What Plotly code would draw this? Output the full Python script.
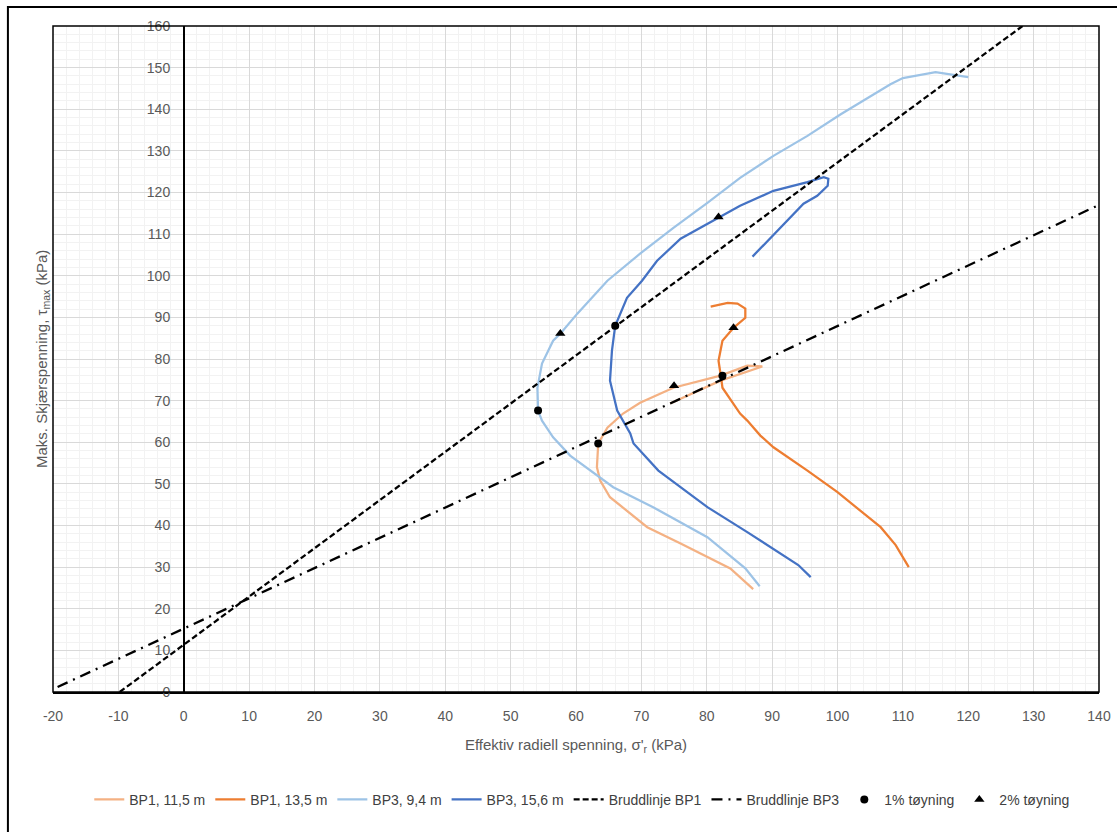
import plotly.graph_objects as go

# ---- data ----
bp1_115_x = [87.1, 83.6, 76.0, 70.9, 65.2, 63.7, 63.2, 63.4, 64.8, 67.2, 69.8, 74.9, 82.1, 86.2, 88.5, 85.1, 82.1, 74.4]
bp1_115_y = [24.7, 29.7, 35.7, 39.6, 46.8, 50.8, 54.0, 59.7, 63.5, 66.9, 69.5, 73.1, 76.0, 78.4, 78.2, 76.3, 74.8, 69.3]

bp1_135_x = [110.9, 108.9, 106.6, 100.0, 95.4, 90.2, 88.2, 86.2, 85.1, 83.3, 82.4, 82.2, 81.8, 82.4, 84.1, 85.9, 85.9, 84.7, 83.2, 80.6]
bp1_135_y = [30.0, 35.3, 39.6, 48.0, 53.2, 58.8, 61.6, 65.2, 66.9, 71.0, 73.1, 75.5, 79.6, 84.4, 87.5, 89.9, 92.1, 93.3, 93.5, 92.6]

bp3_94_x = [88.1, 85.9, 80.1, 71.8, 65.7, 59.1, 56.5, 54.8, 54.2, 54.1, 54.8, 56.5, 57.6, 60.2, 64.8, 69.8, 74.9, 80.1, 85.1, 90.2, 95.4, 100.5, 108.1, 110.0, 115.0, 120.0]
bp3_94_y = [25.4, 29.7, 37.2, 44.4, 49.2, 56.8, 61.2, 65.2, 67.6, 73.1, 78.9, 84.4, 86.1, 90.9, 98.8, 105.3, 111.5, 117.5, 123.5, 128.8, 133.6, 138.8, 146.0, 147.5, 148.9, 147.7]

bp3_156_x = [95.9, 94.0, 86.2, 80.1, 72.6, 68.8, 68.3, 66.3, 65.2, 65.5, 66.0, 67.8, 70.1, 72.4, 76.0, 79.0, 81.8, 85.1, 90.2, 95.4, 97.9, 98.6, 98.5, 96.9, 94.8, 92.3, 89.7, 87.0]
bp3_156_y = [27.6, 30.5, 38.4, 44.4, 53.2, 59.7, 62.1, 67.6, 74.8, 82.0, 88.0, 94.7, 98.8, 103.6, 108.9, 111.5, 114.0, 116.8, 120.4, 122.5, 123.7, 123.3, 121.6, 119.2, 117.3, 113.2, 109.1, 104.6]

brudd_bp1_x = [-9.8, 128.3]
brudd_bp1_y = [0.0, 160.0]
brudd_bp3_x = [-19.3, 140.0]
brudd_bp3_y = [1.2, 117.0]

strain1_x = [63.4, 82.4, 54.2, 66.0]
strain1_y = [59.7, 76.0, 67.6, 88.0]
strain2_x = [75.0, 84.1, 57.6, 81.8]
strain2_y = [73.6, 87.5, 86.1, 114.1]

x_ticks = list(range(-20, 141, 10))
y_ticks = list(range(0, 161, 10))

# ---- figure ----
fig = go.Figure()
lw = 2.25
fig.add_trace(go.Scatter(x=bp1_115_x, y=bp1_115_y, mode="lines", name="BP1, 11,5 m",
                         line=dict(color="#F4B183", width=lw)))
fig.add_trace(go.Scatter(x=bp1_135_x, y=bp1_135_y, mode="lines", name="BP1, 13,5 m",
                         line=dict(color="#ED7D31", width=lw)))
fig.add_trace(go.Scatter(x=bp3_94_x, y=bp3_94_y, mode="lines", name="BP3, 9,4 m",
                         line=dict(color="#9DC3E6", width=lw)))
fig.add_trace(go.Scatter(x=bp3_156_x, y=bp3_156_y, mode="lines", name="BP3, 15,6 m",
                         line=dict(color="#4472C4", width=lw)))
fig.add_trace(go.Scatter(x=brudd_bp1_x, y=brudd_bp1_y, mode="lines", name="Bruddlinje BP1",
                         line=dict(color="black", width=2.25, dash="6px,3px")))
fig.add_trace(go.Scatter(x=brudd_bp3_x, y=brudd_bp3_y, mode="lines", name="Bruddlinje BP3",
                         line=dict(color="black", width=2.25, dash="11px,6px,2px,6px")))
fig.add_trace(go.Scatter(x=strain1_x, y=strain1_y, mode="markers", name="1% tøyning",
                         marker=dict(symbol="circle", color="black", size=8)))
fig.add_trace(go.Scatter(x=strain2_x, y=strain2_y, mode="markers", name="2% tøyning",
                         marker=dict(symbol="triangle-up", color="black", size=9)))

tick_font = dict(family="Liberation Sans, Arial, sans-serif", size=14, color="#595959")

fig.update_layout(
    width=1117, height=832,
    margin=dict(l=53, r=18, t=26, b=140),
    paper_bgcolor="white", plot_bgcolor="white",
    showlegend=True,
    legend=dict(orientation="h", x=0.506, xanchor="center", y=-0.162, yanchor="middle",
                font=dict(family="Liberation Sans Narrow, Arial Narrow, Liberation Sans, sans-serif",
                          size=14, color="#404040"),
                itemwidth=30, tracegroupgap=0),
    xaxis=dict(range=[-20, 140], tickvals=x_ticks, ticktext=[str(v) for v in x_ticks],
               automargin=False,
               showgrid=True, gridcolor="#D9D9D9", gridwidth=1,
               minor=dict(dtick=2, tick0=0, showgrid=True, gridcolor="#F2F2F2", gridwidth=1),
               zeroline=False, showline=True, linecolor="black", linewidth=1.5,
               ticks="outside", ticklen=10, tickcolor="rgba(0,0,0,0)",
               tickfont=tick_font,
               title=dict(text="Effektiv radiell spenning, σ'<sub>r</sub> (kPa)",
                          font=dict(family="Liberation Sans, Arial, sans-serif", size=15, color="#595959"),
                          standoff=17)),
    yaxis=dict(range=[0, 160], tickvals=y_ticks, ticktext=[str(v) for v in y_ticks],
               automargin=False,
               anchor="free", position=0.125,
               showgrid=True, gridcolor="#D9D9D9", gridwidth=1,
               minor=dict(dtick=2, tick0=0, showgrid=True, gridcolor="#F2F2F2", gridwidth=1),
               zeroline=False, showline=True, linecolor="black", linewidth=1.5,
               ticks="outside", ticklen=10, tickcolor="rgba(0,0,0,0)",
               tickfont=tick_font),
)

# y-axis title as annotation (axis line sits at x=0)
fig.add_annotation(text="Maks. Skjærspenning, τ<sub>max</sub> (kPa)", xref="paper", yref="paper",
                   x=-0.0105, y=0.5, textangle=-90, showarrow=False, xanchor="center", yanchor="middle",
                   font=dict(family="Liberation Sans, Arial, sans-serif", size=15, color="#595959"))

# plot-area border and chart border (right/bottom edges fall outside the picture)
fig.add_shape(type="rect", xref="paper", yref="paper", x0=0, x1=1, y0=0, y1=1,
              line=dict(color="black", width=1.5), layer="above")
fig.add_shape(type="rect", xref="paper", yref="paper", x0=-0.0431, x1=1.03, y0=-0.23, y1=1.0285,
              line=dict(color="black", width=2))

fig.write_html("out.html", config={"displayModeBar": False},
               post_script="document.body.style.margin='0';")
